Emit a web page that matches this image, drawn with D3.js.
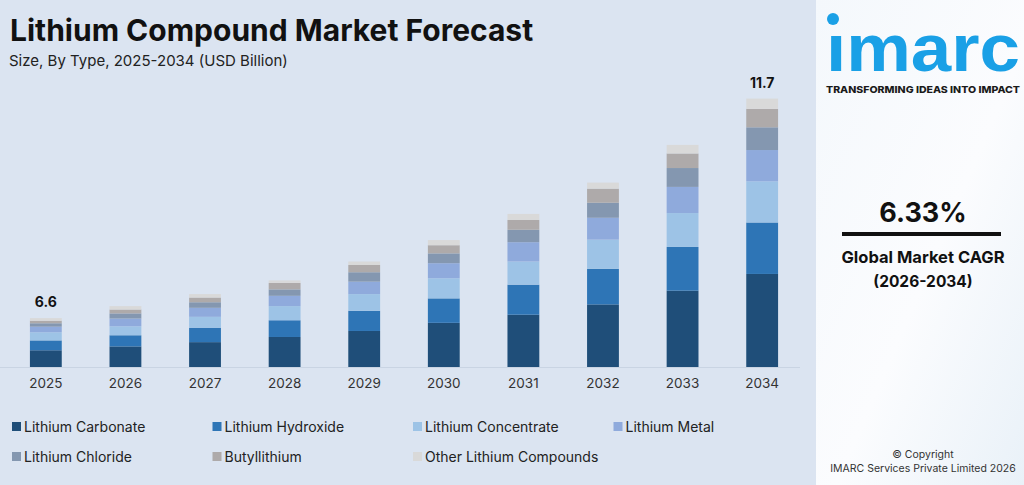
<!DOCTYPE html>
<html>
<head>
<meta charset="utf-8">
<script src="https://cdn.jsdelivr.net/npm/d3@7"></script>
<style>
  body { margin: 0; background: #dbe4f1; }
  svg { display: block; font-family: "Inter", "Noto Sans", sans-serif; }
</style>
</head>
<body>
<script>
// chart size
const SCREEN = { width: 1024, height: 485, panelX: 816, baseY: 367, topY: 99 };

const years = ['2025', '2026', '2027', '2028', '2029', '2030', '2031', '2032', '2033', '2034'];

// segment sizes (USD Billion above the truncated axis floor)
const lithiumCarbonate  = [0.39, 0.48, 0.58, 0.70, 0.84, 1.03, 1.22, 1.46, 1.78, 2.17];
const lithiumHydroxide  = [0.23, 0.26, 0.33, 0.39, 0.47, 0.57, 0.70, 0.83, 1.02, 1.20];
const lithiumConcentrate = [0.19, 0.21, 0.26, 0.33, 0.39, 0.47, 0.54, 0.68, 0.79, 0.96];
const lithiumMetal      = [0.13, 0.18, 0.21, 0.24, 0.29, 0.35, 0.45, 0.51, 0.61, 0.73];
const lithiumChloride   = [0.08, 0.12, 0.13, 0.15, 0.22, 0.23, 0.29, 0.35, 0.44, 0.53];
const butyllithium      = [0.06, 0.09, 0.11, 0.15, 0.17, 0.19, 0.23, 0.33, 0.34, 0.43];
const otherCompounds    = [0.06, 0.08, 0.08, 0.06, 0.08, 0.12, 0.14, 0.14, 0.20, 0.24];

const seriesNames = ['Lithium Carbonate', 'Lithium Hydroxide', 'Lithium Concentrate', 'Lithium Metal',
                     'Lithium Chloride', 'Butyllithium', 'Other Lithium Compounds'];
const seriesColors = ['#1f4e79', '#2e75b6', '#9dc3e6', '#8faadc', '#8497b0', '#aeaaaa', '#d9d9d9'];

// the chart's value axis is not zero based
const AXIS_FLOOR = 5.45;
const AXIS_TOP = 11.7;

// only first and last totals are labelled
const totalLabels = new Map([['2025', '6.6'], ['2034', '11.7']]);

const cagrValue = '6.33%';
const cagrLabel = 'Global Market CAGR';
const cagrPeriod = '(2026-2034)';

const rows = years.map((y, i) => ({
    year: y,
    'Lithium Carbonate': lithiumCarbonate[i],
    'Lithium Hydroxide': lithiumHydroxide[i],
    'Lithium Concentrate': lithiumConcentrate[i],
    'Lithium Metal': lithiumMetal[i],
    'Lithium Chloride': lithiumChloride[i],
    'Butyllithium': butyllithium[i],
    'Other Lithium Compounds': otherCompounds[i]
}));

const svg = d3.select('body').append('svg')
    .attr('width', SCREEN.width)
    .attr('height', SCREEN.height);

const defs = svg.append('defs');
const grad = defs.append('linearGradient').attr('id', 'panelGrad')
    .attr('x1', 0).attr('y1', 0).attr('x2', 1).attr('y2', 1);
grad.append('stop').attr('offset', '0%').attr('stop-color', '#f4f8fc');
grad.append('stop').attr('offset', '55%').attr('stop-color', '#fbfcfe');
grad.append('stop').attr('offset', '100%').attr('stop-color', '#e9f1f8');

// background
svg.append('rect').attr('width', SCREEN.width).attr('height', SCREEN.height).attr('fill', '#dbe4f1');
svg.append('rect').attr('x', SCREEN.panelX).attr('width', SCREEN.width - SCREEN.panelX)
    .attr('height', SCREEN.height).attr('fill', 'url(#panelGrad)');

// titles
svg.append('text').attr('x', 10).attr('y', 41)
    .attr('font-size', 30).attr('font-weight', 700).attr('fill', '#111')
    .text('Lithium Compound Market Forecast');
svg.append('text').attr('x', 9).attr('y', 66)
    .attr('font-size', 15).attr('fill', '#222')
    .text('Size, By Type, 2025-2034 (USD Billion)');

// scales
const xScale = d3.scaleBand(years, [14, 794]).paddingInner(0.6).paddingOuter(0.2);
const yScale = d3.scaleLinear([AXIS_FLOOR, AXIS_TOP], [SCREEN.baseY, SCREEN.topY]);
const colorScale = d3.scaleOrdinal(seriesNames, seriesColors);

const series = d3.stack().keys(seriesNames)(rows);

svg.append('g')
    .selectAll('g')
    .data(series)
    .join('g')
    .attr('fill', d => colorScale(d.key))
    .selectAll('rect')
    .data(d => d)
    .join('rect')
    .attr('x', d => xScale(d.data.year))
    .attr('y', d => yScale(AXIS_FLOOR + d[1]))
    .attr('width', xScale.bandwidth())
    .attr('height', d => yScale(AXIS_FLOOR + d[0]) - yScale(AXIS_FLOOR + d[1]));

// x axis
const xAxis = d3.axisBottom(xScale).tickSize(0).tickPadding(11);
svg.append('g')
    .attr('transform', `translate(0,${SCREEN.baseY})`)
    .call(xAxis)
    .call(g => g.select('.domain').attr('d', 'M0,0.5H800').attr('stroke', '#c9d4e3'))
    .call(g => g.selectAll('.tick text')
        .attr('font-family', 'Inter, sans-serif')
        .attr('font-size', 13.5).attr('fill', '#333'));

// total labels
const topOf = d3.rollup(series[series.length - 1], v => v[0][1], d => d.data.year);
svg.append('g')
    .selectAll('text')
    .data(years.filter(y => totalLabels.has(y)))
    .join('text')
    .attr('x', y => xScale(y) + xScale.bandwidth() / 2)
    .attr('y', y => yScale(AXIS_FLOOR + topOf.get(y)) - 11)
    .attr('text-anchor', 'middle')
    .attr('font-size', 14).attr('font-weight', 700).attr('fill', '#111')
    .text(y => totalLabels.get(y));

// legend
const legend = svg.append('g')
    .selectAll('g')
    .data(seriesNames)
    .join('g')
    .attr('transform', (d, i) => `translate(${12 + (i % 4) * 200.5},${422 + Math.floor(i / 4) * 30})`);
legend.append('rect').attr('width', 9).attr('height', 9).attr('fill', d => colorScale(d));
legend.append('text').attr('x', 12).attr('y', 9.5)
    .attr('font-size', 14).attr('fill', '#222')
    .text(d => d);

// right panel: logo, cagr, copyright
const cx = 923;
svg.append('circle').attr('cx', 833).attr('cy', 19).attr('r', 6).attr('fill', '#1aa0e6');
svg.append('text').attr('x', 826).attr('y', 71)
    .attr('font-family', '"Liberation Sans", Arial, sans-serif')
    .attr('font-size', 66).attr('font-weight', 700).attr('fill', '#1aa0e6')
    .attr('textLength', 194).attr('lengthAdjust', 'spacingAndGlyphs')
    .text('\u0131marc');
svg.append('text').attr('x', cx).attr('y', 93)
    .attr('text-anchor', 'middle')
    .attr('font-size', 9.5).attr('font-weight', 800).attr('fill', '#1a1a1a')
    .attr('textLength', 194).attr('lengthAdjust', 'spacingAndGlyphs')
    .text('TRANSFORMING IDEAS INTO IMPACT');

svg.append('text').attr('x', cx).attr('y', 222)
    .attr('text-anchor', 'middle')
    .attr('font-size', 27).attr('font-weight', 700).attr('fill', '#111')
    .text(cagrValue);
svg.append('rect').attr('x', 842).attr('y', 232).attr('width', 159).attr('height', 4).attr('fill', '#111');
svg.append('text').attr('x', cx).attr('y', 263)
    .attr('text-anchor', 'middle')
    .attr('font-size', 16.5).attr('font-weight', 700).attr('fill', '#111')
    .text(cagrLabel);
svg.append('text').attr('x', cx).attr('y', 287)
    .attr('text-anchor', 'middle')
    .attr('font-size', 15.5).attr('font-weight', 700).attr('fill', '#111')
    .text(cagrPeriod);

svg.append('text').attr('x', cx).attr('y', 458)
    .attr('text-anchor', 'middle')
    .attr('font-size', 10.5).attr('fill', '#333')
    .text('\u00a9 Copyright');
svg.append('text').attr('x', cx).attr('y', 472)
    .attr('text-anchor', 'middle')
    .attr('font-size', 10.5).attr('fill', '#333')
    .text('IMARC Services Private Limited 2026');
</script>
</body>
</html>
